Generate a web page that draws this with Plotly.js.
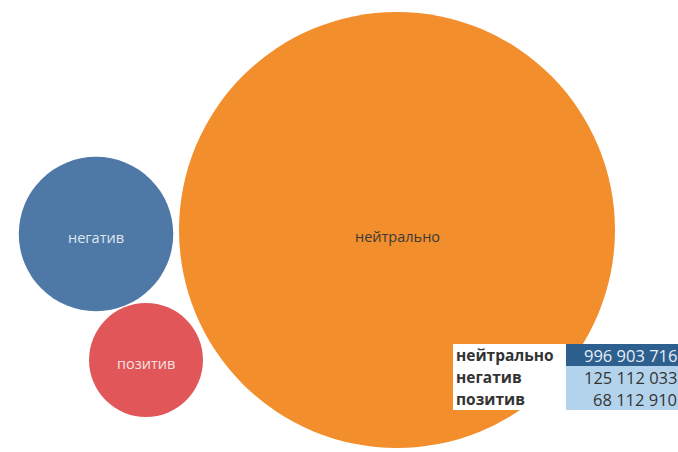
<!DOCTYPE html>
<html>
<head>
<meta charset="utf-8">
<script src="https://cdn.plot.ly/plotly-3.0.1.min.js"></script>
<style>html,body{margin:0;padding:0;background:#fff;}#chart{width:678px;height:452px;}</style>
</head>
<body>
<div id="chart"></div>
<script>
// Data
var categories = ["нейтрально", "негатив", "позитив"];
var values = [996903716, 125112033, 68112910];

// Layout (pixel-like coordinates) and styles
var centersX = [397, 96, 146];
var centersY = [230, 234, 360];
var colors = ["#f28e2b", "#4e79a7", "#e15759"];
var labelColors = ["#3a3a3a", "#dfe6ef", "#f6e3e3"];
var labelShift = [-6, -3, -3];
var maxDiameter = 436;

function fmt(v) {
  return String(v).replace(/\B(?=(\d{3})+(?!\d))/g, " ");
}

var maxVal = Math.max.apply(null, values);
var trace = {
  type: "scatter",
  mode: "markers",
  x: centersX,
  y: centersY,
  text: categories,
  marker: {
    size: values,
    sizemode: "area",
    sizeref: 2 * maxVal / (maxDiameter * maxDiameter),
    color: colors,
    opacity: 1,
    line: {width: 0}
  },
  cliponaxis: false,
  hoverinfo: "text"
};

var annotations = [];
for (var k = 0; k < categories.length; k++) {
  annotations.push({x: centersX[k], y: centersY[k], xref: "x", yref: "y", text: categories[k],
    showarrow: false, xanchor: "center", yanchor: "middle", yshift: labelShift[k],
    font: {family: "Open Sans, sans-serif", size: 14.5, color: labelColors[k]}});
}

// Table (bottom right)
var tableLeft = 453, tableMid = 566, tableRight = 678, tableTop = 344, rowH = 22;
var valueFills = ["#2d5f8f", "#b3d3ec", "#b3d3ec"];
var valueText = ["#e8eef5", "#333333", "#333333"];
var shapes = [];
for (var i = 0; i < categories.length; i++) {
  var y0 = tableTop + i * rowH, y1 = y0 + rowH;
  shapes.push({type: "rect", xref: "x", yref: "y", x0: tableLeft, x1: tableMid, y0: y0, y1: y1,
    fillcolor: "#ffffff", line: {width: 0}, layer: "above"});
  shapes.push({type: "rect", xref: "x", yref: "y", x0: tableMid, x1: tableRight, y0: y0, y1: y1,
    fillcolor: valueFills[i], line: {width: 0}, layer: "above"});
  annotations.push({x: tableLeft + 1, y: (y0 + y1) / 2, xref: "x", yref: "y", text: "<b>" + categories[i] + "</b>",
    showarrow: false, xanchor: "left", yanchor: "middle",
    font: {family: "Open Sans, sans-serif", size: 15.5, color: "#333333"}});
  annotations.push({x: tableRight, y: (y0 + y1) / 2, xref: "x", yref: "y", text: fmt(values[i]),
    showarrow: false, xanchor: "right", yanchor: "middle", xshift: 1,
    font: {family: "Open Sans, sans-serif", size: 16.5, color: valueText[i]}});
}

var layout = {
  width: 678, height: 452,
  margin: {l: 0, r: 0, t: 0, b: 0},
  paper_bgcolor: "#ffffff", plot_bgcolor: "#ffffff",
  showlegend: false,
  xaxis: {range: [0, 678], visible: false, fixedrange: true},
  yaxis: {range: [452, 0], visible: false, fixedrange: true},
  shapes: shapes,
  annotations: annotations
};

Plotly.newPlot("chart", [trace], layout, {displayModeBar: false, staticPlot: true});
</script>
</body>
</html>
